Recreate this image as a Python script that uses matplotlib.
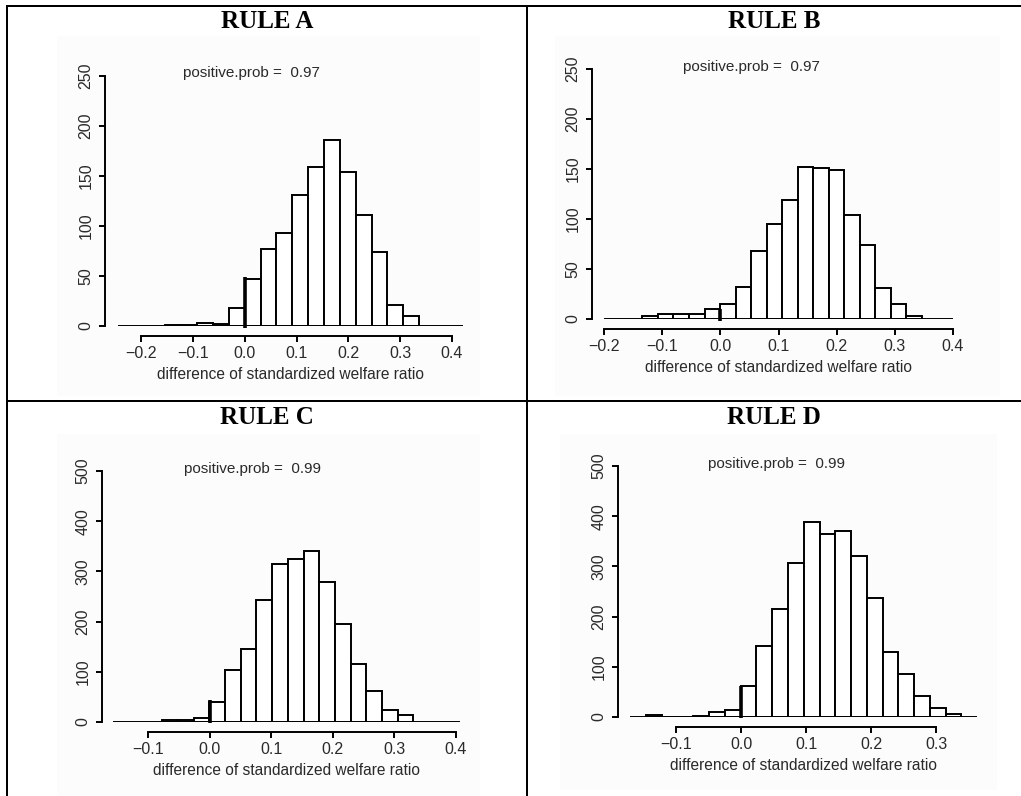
import matplotlib.pyplot as plt
from matplotlib.lines import Line2D
from matplotlib.patches import Rectangle
import numpy as np

plt.rcParams["font.family"] = ["Liberation Sans", "DejaVu Sans"]

W, H = 1021, 796

titles = ["RULE A", "RULE B", "RULE C", "RULE D"]
prob_values = ["0.97", "0.97", "0.99", "0.99"]
xlabel = "difference of standardized welfare ratio"

# histogram breaks (first edge, bin width) and counts per bin
a_start, a_width = -0.153, 0.0306
a_counts = [1, 1, 3, 2, 18, 47, 77, 93, 131, 159, 186, 154, 111, 74, 21, 10]
b_start, b_width = -0.134, 0.0267
b_counts = [3, 5, 5, 5, 10, 15, 32, 68, 95, 119, 152, 151, 149, 104, 74, 31, 15, 3]
c_start, c_width = -0.077, 0.0255
c_counts = [3, 3, 8, 39, 103, 145, 244, 314, 324, 340, 279, 196, 116, 62, 23, 13]
d_start, d_width = -0.146, 0.02425
d_counts = [3, 0, 0, 2, 9, 13, 61, 141, 215, 307, 388, 364, 371, 320, 237,
            129, 86, 42, 17, 6]

# height of the thick mark drawn at x = 0
zero_marks = [49, 10, 43, 62]

a_xticks = [-0.2, -0.1, 0.0, 0.1, 0.2, 0.3, 0.4]
b_xticks = [-0.2, -0.1, 0.0, 0.1, 0.2, 0.3, 0.4]
c_xticks = [-0.1, 0.0, 0.1, 0.2, 0.3, 0.4]
d_xticks = [-0.1, 0.0, 0.1, 0.2, 0.3]
ab_yticks = [0, 50, 100, 150, 200, 250]
cd_yticks = [0, 100, 200, 300, 400, 500]

panels = [
    dict(start=a_start, width=a_width, counts=a_counts, xticks=a_xticks,
         yticks=ab_yticks, box=(118, 463, 66, 326), xlim=(-0.2444, 0.4212),
         ylim=(0, 260), yoff=13, xoff=10, txt=(0.014, 253)),
    dict(start=b_start, width=b_width, counts=b_counts, xticks=b_xticks,
         yticks=ab_yticks, box=(604, 953, 59, 319), xlim=(-0.1899, 0.3983),
         ylim=(0, 260), yoff=12, xoff=10, txt=(0.054, 252)),
    dict(start=c_start, width=c_width, counts=c_counts, xticks=c_xticks,
         yticks=cd_yticks, box=(113, 460, 461, 722), xlim=(-0.1568, 0.4065),
         ylim=(0, 520), yoff=11, xoff=10, txt=(0.070, 504)),
    dict(start=d_start, width=d_width, counts=d_counts, xticks=d_xticks,
         yticks=cd_yticks, box=(630, 977, 456, 717), xlim=(-0.1708, 0.363),
         ylim=(0, 520), yoff=12, xoff=10, txt=(0.055, 504)),
]

title_pos = [(267, 21), (774, 21), (267, 418), (774, 418)]
# faint scan backgrounds behind each plot
backs = [(57, 36, 480, 396), (555, 36, 1000, 396),
         (57, 434, 480, 796), (560, 434, 997, 790)]

fig = plt.figure(figsize=(W / 100, H / 100), dpi=100)
PX = 0.72  # points per pixel

for (x0, y0, x1, y1) in backs:
    fig.add_artist(Rectangle((x0 / W, 1 - y1 / H), (x1 - x0) / W, (y1 - y0) / H,
                             transform=fig.transFigure, facecolor="#fcfcfc",
                             edgecolor="none", zorder=0))

# table rules
lw_rule = 2 * PX
fig.add_artist(Line2D([7 / W, 1], [1 - 5.5 / H] * 2, color="black", lw=lw_rule))
fig.add_artist(Line2D([7 / W, 1], [1 - 401 / H] * 2, color="black", lw=lw_rule))
fig.add_artist(Line2D([7 / W] * 2, [0, 1 - 5.5 / H], color="black", lw=lw_rule))
fig.add_artist(Line2D([527 / W] * 2, [0, 1 - 5.5 / H], color="black", lw=lw_rule))

for t, (tx, ty) in zip(titles, title_pos):
    fig.text(tx / W, 1 - ty / H, t, ha="center", va="center", fontsize=18,
             fontweight="bold", family=["Liberation Serif", "DejaVu Serif"])

for p, prob, zm in zip(panels, prob_values, zero_marks):
    x0, x1, yt, yb = p["box"]
    ax = fig.add_axes([x0 / W, 1 - yb / H, (x1 - x0) / W, (yb - yt) / H])
    ax.set_facecolor("none")

    edges = p["start"] + p["width"] * np.arange(len(p["counts"]) + 1)
    ax.bar(edges[:-1], p["counts"], width=np.diff(edges), align="edge",
           facecolor="white", edgecolor="black", linewidth=1.4, zorder=2)
    ax.axhline(0, color="black", lw=1.4, zorder=3)
    ax.plot([0, 0], [-2, zm], color="black", lw=2.6, zorder=4, clip_on=False,
            solid_capstyle="butt")

    ax.set_xlim(*p["xlim"])
    ax.set_ylim(*p["ylim"])

    for s in ["top", "right"]:
        ax.spines[s].set_visible(False)
    ax.spines["left"].set_position(("outward", p["yoff"] * PX))
    ax.spines["bottom"].set_position(("outward", p["xoff"] * PX))
    ax.spines["left"].set_bounds(p["yticks"][0], p["yticks"][-1])
    ax.spines["bottom"].set_bounds(p["xticks"][0], p["xticks"][-1])
    for s in ["left", "bottom"]:
        ax.spines[s].set_linewidth(1.4)

    ax.set_xticks(p["xticks"])
    ax.set_xticklabels([f"{v:.1f}".replace("-", "\u2212") for v in p["xticks"]])
    ax.set_yticks(p["yticks"])
    ax.set_yticklabels([str(v) for v in p["yticks"]])
    ax.tick_params(direction="out", length=6 * PX, width=1.4, labelsize=11.5,
                   labelcolor="#2a2a2a")
    ax.tick_params(axis="x", pad=3)
    ax.tick_params(axis="y", pad=4, labelrotation=90)
    for lbl in ax.get_yticklabels():
        lbl.set_va("center")

    ax.set_xlabel(xlabel, fontsize=11.2, color="#2a2a2a", labelpad=4)
    ax.text(p["txt"][0], p["txt"][1], f"positive.prob =  {prob}", ha="center",
            va="center", fontsize=11, color="#2a2a2a", clip_on=False)

fig.savefig("out.png", dpi=100)
